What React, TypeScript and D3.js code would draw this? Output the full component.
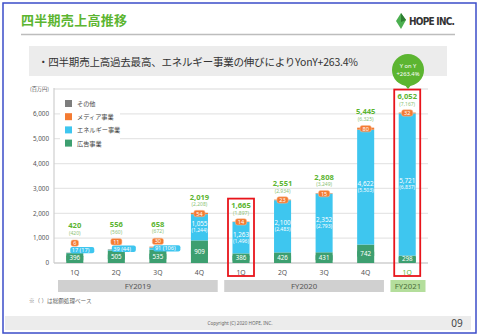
import React from 'react';
import * as d3 from 'd3';

const categories = ['1Q', '2Q', '3Q', '4Q', '1Q', '2Q', '3Q', '4Q', '1Q'];
const fiscalYears = ['FY2019', 'FY2020', 'FY2021'];
const fiscalYearStart = [0, 4, 8];
const fiscalYearEnd = [4, 8, 9];
const adSales = [396, 505, 535, 909, 386, 426, 431, 742, 298];
const energySales = [17, 39, 91, 1055, 1263, 2100, 2352, 4622, 5721];
const energyGross = [17, 44, 106, 1244, 1496, 2483, 2793, 5503, 6837];
const mediaSales = [6, 11, 30, 54, 14, 23, 15, 80, 32];
const otherSales = [1, 1, 2, 1, 2, 2, 10, 1, 1];
const totalSales = [420, 556, 658, 2019, 1665, 2551, 2808, 5445, 6052];
const totalGross = [420, 560, 672, 2208, 1897, 2934, 3249, 6325, 7167];
const highlighted = [4, 8];
const yTicks = [0, 1000, 2000, 3000, 4000, 5000, 6000];
const legendLabels = ['その他', 'メディア事業', 'エネルギー事業', '広告事業'];

const C_AD = '#3d9f70';
const C_EN = '#3ec6ef';
const C_MEDIA = '#f47b32';
const C_OTHER = '#7d7d7d';
const GREEN = '#5cb531';
const JP = "'Noto Sans CJK JP', 'Noto Sans', sans-serif";
const SANS = "'Noto Sans', 'Open Sans', sans-serif";

const fmt = d3.format(',');

export default function App() {
  const x = d3
    .scaleBand<number>()
    .domain(categories.map((_, i) => i))
    .range([54, 428])
    .paddingInner(0.59)
    .paddingOuter(0.295);
  const y = d3.scaleLinear().domain([0, 7000]).range([263, 89]);
  const step = x.step();
  const bw = x.bandwidth();

  const rows = categories.map((_, i) => ({
    ad: adSales[i],
    en: energySales[i],
    media: mediaSales[i],
    other: otherSales[i],
  }));
  const keys = ['ad', 'en', 'media', 'other'];
  const colors: Record<string, string> = { ad: C_AD, en: C_EN, media: C_MEDIA, other: C_OTHER };
  const stacked = d3.stack<any>().keys(keys)(rows);
  const legendColors = [C_OTHER, C_MEDIA, C_EN, C_AD];

  return (
    <div style={{ position: 'fixed', left: 0, top: 0 }}>
      <svg width={480} height={336} style={{ display: 'block', background: '#fff' }}>
        <rect x={0} y={0} width={480} height={336} fill="#fff" />
        {/* Header */}
        <text x={21} y={25} fontFamily={JP} fontWeight={700} fontSize={13} fill={GREEN} textLength={106}>
          四半期売上高推移
        </text>
        <line x1={21} x2={455} y1={34.5} y2={34.5} stroke="#bdbdbd" strokeWidth={1.5} />
        <polygon points="401,13 406,20 401,29 396,21" fill="#4caf50" />
        <polygon points="401,13 406,20 401,22" fill="#2e7d32" />
        <text x={409} y={25} fontFamily="'DejaVu Sans Condensed', 'Liberation Sans Narrow', sans-serif" fontWeight={700} fontSize={10} fill="#333" textLength={46}>
          HOPE INC.
        </text>
        {/* Subtitle box */}
        <rect x={29} y={46} width={418} height={30} fill="#ececec" />
        <text x={38} y={66} fontFamily={JP} fontSize={10.5} fill="#333" textLength={320}>
          ・四半期売上高過去最高、エネルギー事業の伸びによりYonY+263.4%
        </text>

        {/* Grid */}
        {[...yTicks, 7000].map((t) => (
          <line key={t} x1={54} x2={428} y1={y(t)} y2={y(t)} stroke={t === 0 ? '#cfcfcf' : '#e6e6e6'} strokeWidth={1.3} />
        ))}
        <line x1={54} x2={54} y1={88} y2={263} stroke="#cfcfcf" strokeWidth={1.2} />
        {yTicks.map((t) => (
          <text key={t} x={49} y={y(t) + 2.3} textAnchor="end" fontFamily={SANS} fontSize={6.3} fill="#555">
            {fmt(t)}
          </text>
        ))}
        <text x={49} y={y(7000) + 2} textAnchor="end" fontFamily={JP} fontSize={5.2} fill="#555">
          (百万円)
        </text>

        {/* Legend */}
        <rect x={60} y={95} width={60} height={56} fill="#fff" />
        {legendLabels.map((l, i) => (
          <g key={l} transform={`translate(65, ${100 + i * 13.2})`}>
            <rect x={0} y={0} width={7} height={7} fill={legendColors[i]} />
            <text x={12} y={6} fontFamily={JP} fontSize={6.2} fill="#444">
              {l}
            </text>
          </g>
        ))}

        {/* Bars */}
        {stacked.map((s) => (
          <g key={s.key}>
            {s.map((d, i) => (
              <rect key={i} x={x(i)} y={y(d[1])} width={bw} height={Math.max(0, y(d[0]) - y(d[1]))} fill={colors[s.key]} />
            ))}
          </g>
        ))}

        {/* Labels */}
        {categories.map((_, i) => {
          const cx = (x(i) as number) + bw / 2;
          const adY = (y(0) + y(adSales[i])) / 2;
          const small = energySales[i] < 300;
          const top = y(totalSales[i]);
          const adLabel = fmt(adSales[i]);
          const adW = adLabel.length * 4 + 5;
          const mediaLabel = fmt(mediaSales[i]);
          const mW = mediaLabel.length * 3.6 + 4;
          let enY: number, mediaY: number, parenY: number, totY: number;
          if (small) {
            enY = adY - 8;
            mediaY = enY - 7;
            parenY = mediaY - 10;
            totY = parenY - 7.5;
          } else {
            enY = (y(adSales[i]) + y(adSales[i] + energySales[i])) / 2;
            mediaY = y(adSales[i] + energySales[i] + mediaSales[i] / 2);
            parenY = top - 9;
            totY = top - 16;
          }
          const enText = `${fmt(energySales[i])} (${fmt(energyGross[i])})`;
          return (
            <g key={i}>
              <rect x={cx - adW / 2} y={adY - 3.4} width={adW} height={6.8} rx={1.5} fill={C_AD} />
              <text x={cx} y={adY + 2.2} textAnchor="middle" fontFamily={SANS} fontSize={6.2} fill="#fff">
                {adLabel}
              </text>
              {small ? (
                <g>
                  <rect x={cx - 4.5} y={enY - 3.2} width={enText.length * 3.0 + 3} height={6.4} rx={2} fill={C_EN} />
                  <text x={cx - 3} y={enY + 2} fontFamily={SANS} fontSize={5.6} fill="#fff">
                    {enText}
                  </text>
                </g>
              ) : (
                <g>
                  <text x={cx} y={enY - 1} textAnchor="middle" fontFamily={SANS} fontSize={6.3} fill="#fff">
                    {fmt(energySales[i])}
                  </text>
                  <text x={cx} y={enY + 5} textAnchor="middle" fontFamily={SANS} fontSize={5} fill="#fff">
                    ({fmt(energyGross[i])})
                  </text>
                </g>
              )}
              <rect x={cx - mW / 2} y={mediaY - 3.2} width={mW} height={6.4} rx={2} fill={C_MEDIA} stroke="#fbc39f" strokeWidth={0.5} />
              <text x={cx} y={mediaY + 2} textAnchor="middle" fontFamily={SANS} fontSize={5.6} fill="#fff">
                {mediaLabel}
              </text>
              <text x={cx} y={totY + 2.8} textAnchor="middle" fontFamily={SANS} fontWeight={700} fontSize={7.6} fill={GREEN}>
                {fmt(totalSales[i])}
              </text>
              <text x={cx} y={parenY + 2} textAnchor="middle" fontFamily={SANS} fontSize={5} fill="#8cc276">
                ({fmt(totalGross[i])})
              </text>
              <text x={cx} y={274.5} textAnchor="middle" fontFamily={SANS} fontSize={6.8} fill={i === 8 ? GREEN : '#555'}>
                {categories[i]}
              </text>
            </g>
          );
        })}

        {/* Highlight boxes */}
        {highlighted.map((i) => {
          const cx = (x(i) as number) + bw / 2;
          const top = y(totalSales[i]) - 23;
          return <rect key={i} x={cx - 13} y={top} width={26} height={276 - top} fill="none" stroke="#e8141b" strokeWidth={1.8} />;
        })}

        {/* Fiscal year bands */}
        {fiscalYears.map((fy, k) => {
          const x0 = 54 + fiscalYearStart[k] * step + 4;
          const x1 = 54 + fiscalYearEnd[k] * step - 2.5;
          const last = k === fiscalYears.length - 1;
          return (
            <g key={fy}>
              <rect x={x0} y={280} width={x1 - x0} height={12} fill={last ? '#b4de9c' : '#d0d0d0'} />
              <text x={(x0 + x1) / 2} y={289.3} textAnchor="middle" fontFamily={SANS} fontSize={7.8} fill={last ? '#4a6e3a' : '#555'}>
                {fy}
              </text>
            </g>
          );
        })}

        {/* YoY bubble */}
        <circle cx={408} cy={70} r={16} fill={GREEN} />
        <polygon points="404,84 412,84 408,89" fill={GREEN} />
        <text x={408} y={68} textAnchor="middle" fontFamily={SANS} fontSize={5.8} fill="#fff">
          Y on Y
        </text>
        <text x={408} y={76} textAnchor="middle" fontFamily={SANS} fontSize={5.8} fill="#fff">
          +263.4%
        </text>

        {/* Note */}
        <text x={29} y={303} fontFamily={JP} fontSize={5.6} fill="#666">
          ※（ ）は総額処理ベース
        </text>

        {/* Footer */}
        <rect x={5} y={316} width={466} height={14} fill="#ececec" />
        <text x={240} y={325} textAnchor="middle" fontFamily={SANS} fontSize={4.6} fill="#666">
          Copyright (C) 2020 HOPE, INC.
        </text>
        <text x={457} y={327} textAnchor="middle" fontFamily={SANS} fontSize={10} fill="#444">
          09
        </text>
        <rect x={3} y={3} width={473} height={330} fill="none" stroke="#3b4cc9" strokeWidth={1.5} />
      </svg>
    </div>
  );
}
